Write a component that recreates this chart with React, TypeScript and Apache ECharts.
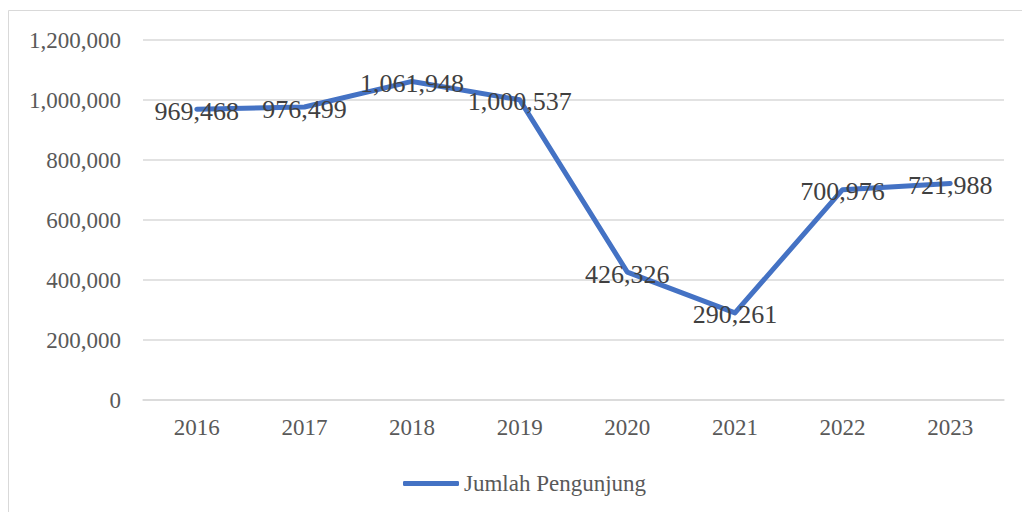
import React, { useEffect, useRef } from "react";
import * as echarts from "echarts";

const years = ["2016", "2017", "2018", "2019", "2020", "2021", "2022", "2023"];
const visitors = [969468, 976499, 1061948, 1000537, 426326, 290261, 700976, 721988];
const seriesName = "Jumlah Pengunjung";

const FONT = "'Liberation Serif', 'Times New Roman', serif";

export default function App() {
  const ref = useRef<HTMLDivElement>(null);
  useEffect(() => {
    if (!ref.current) return;
    const chart = echarts.init(ref.current, null, { renderer: "svg" });
    chart.setOption({
      animation: false,
      backgroundColor: "#ffffff",
      graphic: [
        {
          type: "rect",
          shape: { x: 8.5, y: 10.5, width: 1030, height: 520 },
          style: { fill: "none", stroke: "#d9d9d9", lineWidth: 1 },
          silent: true,
        },
      ],
      grid: { left: 143, right: 18, top: 40, bottom: 112 },
      legend: {
        show: true,
        left: 398,
        top: 467,
        icon: "roundRect",
        itemWidth: 56,
        itemHeight: 5,
        textStyle: { fontFamily: FONT, fontSize: 23, color: "#595959" },
        data: [seriesName],
      },
      xAxis: {
        type: "category",
        data: years,
        boundaryGap: true,
        axisLine: { show: true, lineStyle: { color: "#d9d9d9", width: 1.5 } },
        axisTick: { show: false },
        axisLabel: { fontFamily: FONT, fontSize: 23, color: "#595959", margin: 16 },
      },
      yAxis: {
        type: "value",
        min: 0,
        max: 1200000,
        interval: 200000,
        axisLine: { show: false },
        axisTick: { show: false },
        splitLine: { lineStyle: { color: "#d9d9d9", width: 1.5 } },
        axisLabel: {
          fontFamily: FONT,
          fontSize: 23,
          color: "#595959",
          margin: 22,
          formatter: (v: number) => v.toLocaleString("en-US"),
        },
      },
      series: [
        {
          name: seriesName,
          type: "line",
          data: visitors,
          symbol: "circle",
          symbolSize: 1,
          showSymbol: true,
          itemStyle: { color: "#4472C4" },
          lineStyle: { color: "#4472C4", width: 5, cap: "round", join: "round" },
          label: {
            show: true,
            position: "inside",
            fontFamily: FONT,
            fontSize: 26,
            color: "#404040",
            offset: [0, 2],
            formatter: (p: any) => Number(p.value).toLocaleString("en-US"),
          },
        },
      ],
    });
    return () => chart.dispose();
  }, []);
  return (
    <div
      ref={ref}
      style={{ position: "absolute", left: 0, top: 0, width: 1022, height: 512 }}
    />
  );
}
